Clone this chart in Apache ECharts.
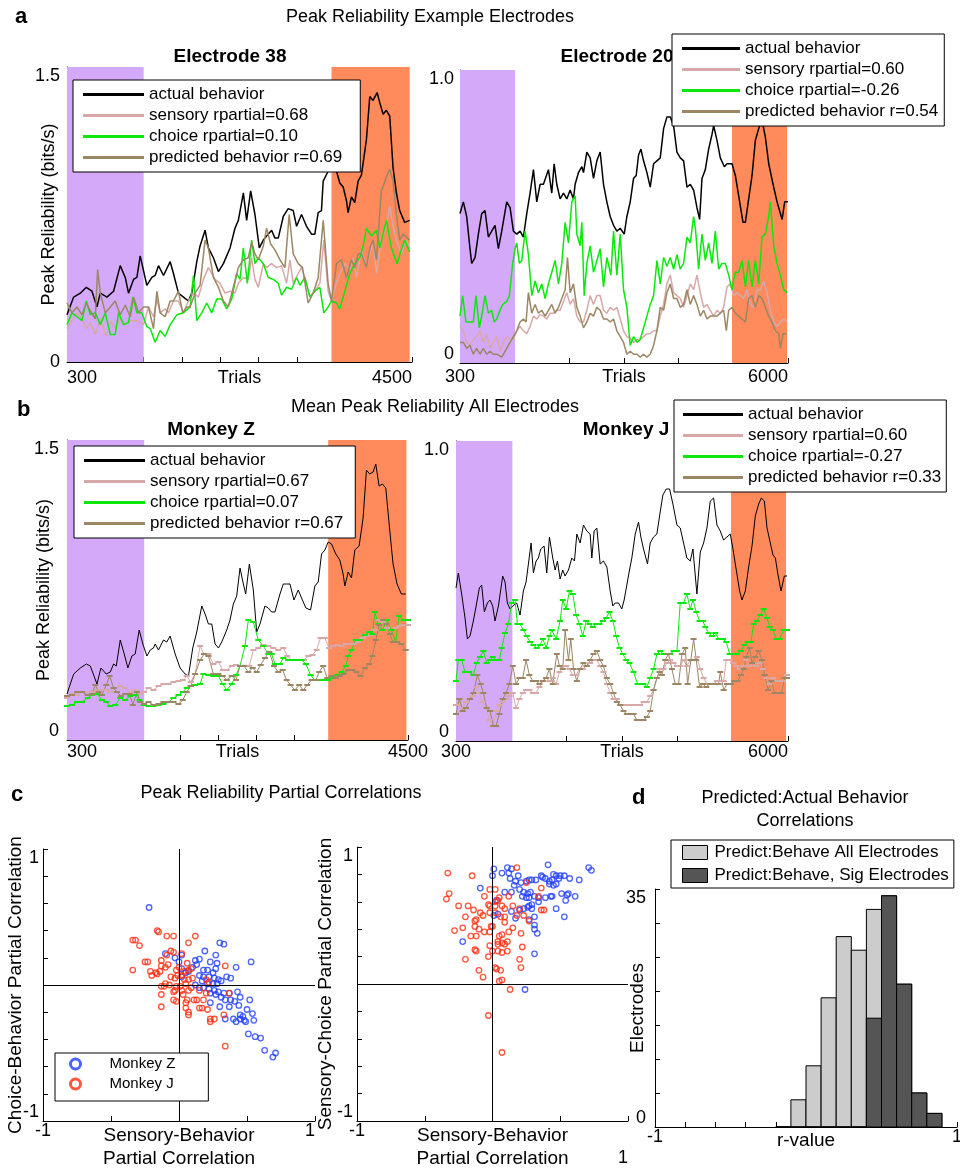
<!DOCTYPE html>
<html><head><meta charset="utf-8">
<script src="https://cdn.jsdelivr.net/npm/echarts@6/dist/echarts.min.js"></script>
<style>html,body{margin:0;padding:0;background:#fff}#c{width:960px;height:1169px}</style>
</head><body><div id="c"></div>
<script>
// ---------------- DATA ----------------
const ticksZ = [300, 766.7, 1233.3, 1700, 2166.7, 2633.3, 3100, 3566.7, 4033.3, 4500];
const ticksJ = [300, 1250, 2200, 3150, 4100, 5050, 6000];

const e38Bands = [[300, 1233], [3520, 4472]];
const e20Bands = [[300, 1257], [5027, 5984]];
const monkeyZBands = [[300, 1251], [3517, 4480]];
const monkeyJBands = [[300, 1268], [5021, 5966]];

const e38Actual = [[300,0.24],[381,0.33],[462,0.35],[535,0.38],[604,0.36],[665,0.28],[705,0.35],[786,0.33],[867,0.36],[948,0.49],[1009,0.43],[1049,0.35],[1110,0.42],[1151,0.43],[1191,0.54],[1272,0.39],[1333,0.43],[1373,0.44],[1414,0.49],[1475,0.44],[1556,0.51],[1596,0.45],[1657,0.35],[1718,0.33],[1778,0.31],[1819,0.35],[1880,0.51],[1920,0.59],[1981,0.67],[2021,0.58],[2082,0.53],[2143,0.46],[2204,0.50],[2285,0.58],[2345,0.68],[2386,0.72],[2447,0.86],[2487,0.72],[2536,0.87],[2588,0.75],[2641,0.58],[2690,0.62],[2730,0.64],[2791,0.67],[2831,0.63],[2872,0.63],[2933,0.74],[2993,0.78],[3054,0.77],[3095,0.69],[3155,0.75],[3216,0.69],[3277,0.65],[3317,0.65],[3358,0.76],[3398,0.77],[3419,0.92],[3479,0.97],[3540,0.99],[3581,0.97],[3621,0.91],[3662,0.89],[3702,0.82],[3722,0.76],[3763,0.84],[3803,0.81],[3844,0.92],[3884,0.95],[3945,1.13],[3986,1.35],[4026,1.33],[4075,1.37],[4107,1.32],[4148,1.26],[4188,1.28],[4229,1.25],[4269,0.99],[4310,0.86],[4350,0.77],[4411,0.71],[4472,0.72]];
const e38Sensory = [[300,0.17],[361,0.21],[422,0.25],[482,0.22],[535,0.17],[584,0.20],[644,0.14],[705,0.22],[778,0.13],[827,0.21],[887,0.17],[948,0.22],[1009,0.19],[1070,0.21],[1151,0.21],[1232,0.19],[1292,0.28],[1353,0.23],[1394,0.32],[1434,0.25],[1495,0.27],[1535,0.25],[1596,0.31],[1657,0.31],[1718,0.25],[1778,0.31],[1839,0.35],[1900,0.33],[1961,0.42],[2021,0.48],[2062,0.45],[2102,0.42],[2163,0.40],[2224,0.35],[2285,0.36],[2345,0.35],[2386,0.40],[2447,0.43],[2507,0.42],[2548,0.53],[2588,0.42],[2629,0.38],[2690,0.50],[2730,0.48],[2791,0.50],[2852,0.48],[2912,0.49],[2973,0.40],[3014,0.52],[3054,0.40],[3115,0.45],[3155,0.48],[3196,0.43],[3257,0.33],[3317,0.36],[3378,0.40],[3427,0.62],[3479,0.36],[3520,0.31],[3560,0.38],[3621,0.45],[3682,0.50],[3743,0.47],[3783,0.53],[3824,0.43],[3884,0.57],[3945,0.48],[3986,0.55],[4026,0.62],[4067,0.45],[4127,0.62],[4188,0.69],[4229,0.79],[4269,0.69],[4310,0.62],[4370,0.55],[4431,0.62],[4472,0.58]];
const e38Choice = [[300,0.19],[361,0.25],[422,0.23],[482,0.21],[535,0.31],[584,0.24],[644,0.25],[705,0.19],[766,0.25],[827,0.14],[887,0.14],[928,0.25],[989,0.19],[1049,0.20],[1102,0.33],[1151,0.25],[1211,0.25],[1272,0.18],[1313,0.17],[1373,0.10],[1434,0.16],[1495,0.13],[1556,0.19],[1637,0.24],[1718,0.25],[1799,0.28],[1839,0.44],[1880,0.21],[1940,0.25],[2001,0.30],[2062,0.25],[2123,0.32],[2183,0.32],[2244,0.27],[2305,0.32],[2366,0.45],[2406,0.42],[2447,0.58],[2495,0.40],[2548,0.62],[2588,0.50],[2629,0.53],[2690,0.50],[2750,0.43],[2811,0.42],[2872,0.40],[2912,0.34],[2973,0.38],[3034,0.37],[3095,0.43],[3135,0.39],[3196,0.43],[3257,0.33],[3317,0.36],[3378,0.38],[3427,0.25],[3479,0.28],[3520,0.31],[3581,0.30],[3621,0.27],[3682,0.36],[3743,0.45],[3803,0.50],[3864,0.53],[3905,0.59],[3945,0.68],[4006,0.64],[4067,0.67],[4107,0.58],[4188,0.72],[4249,0.58],[4318,0.50],[4370,0.57],[4411,0.62],[4472,0.56]];
const e38Predicted = [[300,0.30],[361,0.25],[422,0.28],[482,0.24],[535,0.30],[584,0.26],[644,0.22],[673,0.47],[705,0.35],[766,0.25],[827,0.28],[887,0.31],[948,0.24],[1009,0.29],[1070,0.23],[1110,0.33],[1171,0.25],[1232,0.28],[1292,0.28],[1353,0.17],[1394,0.36],[1434,0.25],[1495,0.23],[1556,0.31],[1596,0.31],[1657,0.36],[1709,0.25],[1758,0.28],[1799,0.28],[1859,0.35],[1920,0.39],[1981,0.62],[2021,0.58],[2082,0.43],[2143,0.38],[2204,0.31],[2264,0.28],[2325,0.38],[2386,0.48],[2447,0.52],[2507,0.53],[2548,0.61],[2588,0.55],[2629,0.52],[2690,0.59],[2730,0.68],[2779,0.60],[2831,0.57],[2892,0.52],[2953,0.48],[3005,0.75],[3054,0.55],[3115,0.50],[3167,0.48],[3236,0.30],[3297,0.35],[3358,0.43],[3419,0.72],[3479,0.40],[3520,0.31],[3581,0.50],[3641,0.52],[3702,0.43],[3763,0.52],[3803,0.48],[3844,0.55],[3884,0.55],[3945,0.48],[3986,0.58],[4026,0.62],[4067,0.52],[4127,0.87],[4188,0.94],[4229,0.98],[4269,0.92],[4310,0.75],[4350,0.62],[4391,0.65],[4472,0.62]];

const e20Actual = [[300,0.51],[358,0.55],[416,0.50],[474,0.39],[503,0.34],[561,0.36],[619,0.44],[677,0.51],[735,0.52],[793,0.43],[851,0.45],[909,0.47],[967,0.39],[1025,0.45],[1112,0.55],[1170,0.53],[1228,0.45],[1286,0.44],[1344,0.45],[1402,0.43],[1460,0.51],[1518,0.58],[1576,0.66],[1634,0.55],[1692,0.61],[1750,0.61],[1837,0.66],[1895,0.58],[1936,0.68],[1982,0.61],[2040,0.56],[2098,0.58],[2156,0.56],[2214,0.59],[2272,0.56],[2301,0.61],[2359,0.65],[2417,0.67],[2446,0.65],[2504,0.72],[2562,0.70],[2620,0.63],[2678,0.69],[2736,0.72],[2794,0.61],[2852,0.55],[2910,0.50],[2968,0.47],[3026,0.45],[3084,0.46],[3154,0.44],[3200,0.50],[3258,0.55],[3316,0.63],[3362,0.64],[3403,0.71],[3444,0.73],[3490,0.69],[3548,0.65],[3606,0.60],[3664,0.68],[3722,0.69],[3780,0.70],[3838,0.80],[3896,0.84],[3954,0.84],[4012,0.81],[4070,0.72],[4128,0.70],[4186,0.69],[4244,0.60],[4302,0.61],[4360,0.59],[4418,0.53],[4464,0.49],[4505,0.63],[4563,0.66],[4621,0.73],[4679,0.78],[4708,0.81],[4766,0.76],[4824,0.70],[4894,0.67],[4940,0.68],[5027,0.68],[5085,0.64],[5143,0.57],[5218,0.48],[5259,0.48],[5317,0.56],[5375,0.64],[5433,0.76],[5491,0.80],[5549,0.83],[5607,0.77],[5665,0.68],[5740,0.61],[5810,0.55],[5897,0.49],[5943,0.55],[6000,0.55]];
const e20Trials = [300,358,416,474,532,590,648,706,764,822,880,938,996,1054,1112,1170,1228,1286,1344,1402,1460,1518,1576,1634,1692,1750,1808,1866,1924,1982,2040,2098,2156,2214,2272,2330,2388,2446,2504,2562,2620,2678,2736,2794,2852,2910,2968,3026,3084,3142,3200,3258,3316,3374,3432,3490,3548,3606,3664,3722,3780,3838,3896,3954,4012,4070,4128,4186,4244,4302,4360,4418,4476,4534,4592,4650,4708,4766,4824,4882,4940,4998,5056,5114,5172,5230,5288,5346,5404,5462,5520,5578,5636,5694,5752,5810,5868,5926,5984];
const e20SensoryVals = [0.125,0.11,0.07,0.06,0.08,0.09,0.11,0.07,0.10,0.05,0.07,0.09,0.04,0.07,0.09,0.08,0.08,0.11,0.125,0.11,0.10,0.125,0.16,0.15,0.165,0.16,0.15,0.17,0.17,0.18,0.18,0.21,0.24,0.20,0.22,0.16,0.14,0.14,0.18,0.23,0.20,0.23,0.23,0.18,0.17,0.19,0.18,0.19,0.15,0.11,0.09,0.085,0.07,0.08,0.08,0.09,0.10,0.10,0.11,0.11,0.16,0.20,0.27,0.30,0.24,0.23,0.22,0.19,0.23,0.27,0.25,0.30,0.24,0.19,0.20,0.18,0.16,0.18,0.17,0.19,0.26,0.27,0.23,0.24,0.23,0.22,0.25,0.20,0.19,0.25,0.25,0.28,0.24,0.18,0.14,0.125,0.14,0.15,0.14];
const e20Choice = [[300,0.16],[346,0.23],[404,0.14],[474,0.14],[532,0.14],[578,0.23],[636,0.12],[677,0.16],[735,0.23],[793,0.17],[851,0.18],[892,0.14],[938,0.15],[996,0.18],[1042,0.20],[1112,0.21],[1158,0.23],[1216,0.34],[1257,0.39],[1286,0.41],[1332,0.34],[1373,0.35],[1431,0.45],[1489,0.37],[1547,0.23],[1605,0.28],[1663,0.24],[1721,0.27],[1779,0.22],[1837,0.27],[1895,0.31],[1953,0.35],[2011,0.27],[2069,0.34],[2127,0.48],[2185,0.41],[2243,0.55],[2301,0.57],[2330,0.44],[2388,0.40],[2417,0.48],[2458,0.23],[2504,0.34],[2562,0.40],[2620,0.31],[2678,0.35],[2736,0.39],[2794,0.26],[2852,0.36],[2922,0.30],[2968,0.45],[3026,0.30],[3084,0.44],[3142,0.25],[3200,0.19],[3258,0.06],[3316,0.09],[3374,0.07],[3432,0.08],[3490,0.12],[3548,0.16],[3606,0.20],[3664,0.23],[3722,0.35],[3780,0.27],[3838,0.36],[3896,0.33],[3954,0.36],[4012,0.32],[4070,0.37],[4128,0.32],[4186,0.34],[4244,0.43],[4302,0.41],[4360,0.50],[4395,0.45],[4447,0.32],[4505,0.44],[4563,0.35],[4621,0.41],[4679,0.34],[4737,0.45],[4795,0.32],[4853,0.34],[4911,0.34],[4969,0.30],[5027,0.25],[5085,0.31],[5143,0.31],[5201,0.35],[5259,0.26],[5317,0.35],[5375,0.26],[5433,0.35],[5491,0.27],[5549,0.43],[5607,0.44],[5665,0.50],[5694,0.55],[5752,0.40],[5810,0.34],[5868,0.30],[5926,0.25],[5984,0.24]];
const e20Predicted = [[300,0.07],[358,0.07],[416,0.05],[474,0.06],[532,0.03],[590,0.05],[648,0.03],[706,0.05],[764,0.03],[822,0.04],[880,0.03],[938,0.03],[1025,0.02],[1083,0.04],[1141,0.06],[1228,0.09],[1286,0.11],[1344,0.14],[1402,0.15],[1448,0.14],[1489,0.24],[1547,0.17],[1605,0.20],[1663,0.17],[1721,0.18],[1779,0.16],[1837,0.18],[1895,0.20],[1953,0.17],[2011,0.19],[2069,0.22],[2127,0.25],[2168,0.36],[2214,0.24],[2272,0.27],[2330,0.19],[2388,0.16],[2446,0.12],[2504,0.14],[2562,0.17],[2620,0.16],[2678,0.19],[2736,0.18],[2794,0.15],[2852,0.15],[2910,0.14],[2968,0.15],[3026,0.11],[3084,0.09],[3142,0.07],[3200,0.03],[3258,0.04],[3316,0.03],[3374,0.03],[3432,0.02],[3490,0.03],[3548,0.02],[3606,0.03],[3664,0.06],[3722,0.11],[3780,0.19],[3838,0.18],[3896,0.24],[3954,0.27],[4012,0.22],[4070,0.22],[4128,0.19],[4186,0.20],[4244,0.25],[4302,0.20],[4360,0.23],[4418,0.20],[4476,0.16],[4534,0.18],[4592,0.15],[4650,0.16],[4708,0.16],[4766,0.16],[4824,0.17],[4882,0.18],[4928,0.11],[4969,0.18],[5027,0.19],[5085,0.17],[5143,0.16],[5201,0.15],[5259,0.14],[5317,0.22],[5375,0.23],[5433,0.19],[5491,0.23],[5549,0.22],[5607,0.19],[5665,0.16],[5723,0.14],[5781,0.11],[5839,0.10],[5868,0.05],[5914,0.10],[5984,0.10]];

const zActual = [[300,0.23],[382,0.33],[464,0.36],[538,0.38],[587,0.37],[669,0.28],[718,0.36],[784,0.33],[833,0.34],[874,0.38],[907,0.37],[956,0.50],[1005,0.43],[1050,0.36],[1099,0.42],[1140,0.43],[1189,0.55],[1234,0.48],[1284,0.42],[1325,0.45],[1365,0.46],[1386,0.48],[1427,0.45],[1488,0.50],[1529,0.49],[1570,0.52],[1632,0.43],[1693,0.36],[1755,0.33],[1796,0.32],[1849,0.46],[1898,0.54],[1960,0.67],[2001,0.63],[2042,0.58],[2083,0.58],[2124,0.48],[2165,0.46],[2206,0.49],[2267,0.55],[2308,0.60],[2349,0.68],[2390,0.72],[2431,0.86],[2472,0.78],[2501,0.73],[2546,0.88],[2595,0.75],[2636,0.54],[2677,0.58],[2738,0.67],[2779,0.66],[2820,0.64],[2861,0.64],[2923,0.73],[2964,0.78],[3005,0.78],[3046,0.78],[3095,0.70],[3148,0.75],[3189,0.71],[3242,0.66],[3300,0.65],[3353,0.77],[3394,0.79],[3435,0.93],[3476,0.95],[3517,0.99],[3558,0.98],[3611,0.93],[3660,0.90],[3701,0.83],[3722,0.77],[3763,0.84],[3804,0.81],[3845,0.95],[3898,0.97],[3947,1.11],[3988,1.35],[4029,1.33],[4070,1.34],[4103,1.38],[4144,1.27],[4185,1.28],[4226,1.26],[4275,1.05],[4316,0.88],[4365,0.78],[4418,0.73],[4472,0.73]];
const zSensory = [[300,0.21],[361,0.23],[423,0.225],[484,0.24],[554,0.24],[607,0.24],[669,0.25],[730,0.25],[784,0.25],[833,0.24],[894,0.26],[956,0.27],[1017,0.26],[1079,0.24],[1140,0.25],[1202,0.23],[1251,0.24],[1304,0.26],[1365,0.25],[1427,0.27],[1488,0.28],[1550,0.28],[1611,0.29],[1673,0.295],[1726,0.30],[1775,0.32],[1824,0.29],[1878,0.33],[1939,0.47],[1988,0.43],[2042,0.43],[2103,0.38],[2165,0.39],[2218,0.35],[2267,0.35],[2329,0.37],[2382,0.375],[2431,0.37],[2492,0.37],[2546,0.37],[2595,0.45],[2656,0.46],[2718,0.475],[2779,0.47],[2841,0.46],[2902,0.45],[2964,0.46],[3013,0.42],[3066,0.40],[3119,0.40],[3169,0.40],[3218,0.40],[3271,0.42],[3324,0.425],[3374,0.45],[3423,0.51],[3476,0.51],[3529,0.46],[3578,0.47],[3628,0.475],[3681,0.47],[3734,0.48],[3783,0.48],[3832,0.48],[3886,0.49],[3939,0.51],[3988,0.52],[4037,0.525],[4091,0.55],[4144,0.60],[4193,0.59],[4242,0.56],[4295,0.55],[4349,0.56],[4398,0.57],[4447,0.575],[4500,0.575]];
const zChoice = [[300,0.17],[361,0.175],[423,0.19],[484,0.19],[554,0.21],[607,0.225],[669,0.23],[730,0.20],[784,0.19],[833,0.17],[894,0.175],[956,0.21],[1017,0.20],[1079,0.22],[1140,0.225],[1193,0.20],[1243,0.175],[1304,0.17],[1365,0.17],[1427,0.175],[1488,0.18],[1550,0.19],[1611,0.21],[1673,0.225],[1726,0.24],[1775,0.26],[1824,0.27],[1878,0.275],[1939,0.28],[1980,0.33],[2042,0.325],[2103,0.32],[2165,0.32],[2218,0.28],[2267,0.25],[2329,0.28],[2382,0.325],[2431,0.37],[2492,0.47],[2533,0.60],[2595,0.59],[2656,0.50],[2718,0.47],[2779,0.43],[2820,0.43],[2861,0.38],[2923,0.38],[2964,0.41],[3025,0.40],[3087,0.40],[3136,0.40],[3189,0.40],[3242,0.38],[3300,0.325],[3353,0.30],[3406,0.30],[3455,0.30],[3517,0.30],[3578,0.31],[3628,0.325],[3681,0.34],[3734,0.37],[3763,0.42],[3804,0.45],[3857,0.50],[3906,0.50],[3968,0.525],[4021,0.54],[4062,0.53],[4091,0.64],[4132,0.58],[4185,0.55],[4242,0.60],[4295,0.55],[4349,0.49],[4390,0.62],[4447,0.60],[4500,0.60]];
const zPredicted = [[300,0.22],[361,0.225],[423,0.24],[484,0.24],[554,0.225],[607,0.23],[648,0.275],[689,0.24],[730,0.225],[784,0.275],[825,0.32],[874,0.26],[915,0.24],[964,0.22],[1017,0.23],[1070,0.23],[1111,0.175],[1161,0.24],[1202,0.19],[1251,0.18],[1304,0.19],[1365,0.175],[1427,0.18],[1488,0.19],[1550,0.19],[1611,0.19],[1673,0.18],[1726,0.20],[1775,0.24],[1824,0.27],[1878,0.33],[1939,0.40],[1988,0.43],[2042,0.42],[2103,0.33],[2165,0.33],[2218,0.32],[2267,0.30],[2329,0.32],[2382,0.30],[2431,0.37],[2480,0.37],[2533,0.34],[2587,0.36],[2636,0.34],[2685,0.375],[2738,0.41],[2792,0.44],[2849,0.37],[2902,0.34],[2956,0.35],[3005,0.30],[3054,0.275],[3107,0.25],[3160,0.275],[3210,0.25],[3259,0.275],[3312,0.30],[3366,0.30],[3406,0.34],[3455,0.37],[3505,0.31],[3558,0.32],[3611,0.31],[3660,0.32],[3709,0.33],[3763,0.35],[3816,0.35],[3865,0.34],[3914,0.32],[3968,0.36],[4021,0.38],[4062,0.42],[4103,0.50],[4144,0.575],[4193,0.60],[4234,0.58],[4275,0.53],[4316,0.49],[4365,0.49],[4418,0.48],[4472,0.45]];

const jActual = [[300,0.51],[340,0.56],[397,0.49],[455,0.41],[495,0.34],[541,0.35],[598,0.40],[655,0.46],[701,0.51],[741,0.52],[787,0.43],[839,0.46],[884,0.47],[930,0.45],[970,0.40],[1028,0.45],[1102,0.55],[1142,0.53],[1182,0.46],[1228,0.44],[1274,0.45],[1343,0.46],[1400,0.42],[1457,0.50],[1503,0.53],[1543,0.59],[1589,0.66],[1629,0.56],[1675,0.60],[1715,0.61],[1755,0.64],[1812,0.65],[1858,0.56],[1904,0.68],[1961,0.61],[2002,0.57],[2042,0.60],[2087,0.54],[2133,0.57],[2173,0.55],[2231,0.57],[2288,0.61],[2334,0.60],[2374,0.69],[2431,0.66],[2488,0.72],[2546,0.70],[2603,0.69],[2632,0.61],[2672,0.70],[2718,0.71],[2775,0.59],[2832,0.60],[2890,0.58],[2947,0.50],[2993,0.45],[3033,0.46],[3090,0.46],[3147,0.44],[3187,0.47],[3233,0.52],[3279,0.57],[3319,0.61],[3377,0.69],[3434,0.73],[3474,0.68],[3520,0.64],[3588,0.59],[3634,0.66],[3692,0.68],[3749,0.69],[3795,0.75],[3852,0.82],[3909,0.84],[3967,0.84],[4024,0.79],[4093,0.72],[4150,0.71],[4207,0.66],[4264,0.61],[4322,0.60],[4368,0.64],[4436,0.49],[4494,0.63],[4551,0.66],[4608,0.71],[4666,0.80],[4723,0.81],[4780,0.72],[4837,0.70],[4895,0.67],[4952,0.68],[5009,0.69],[5055,0.64],[5112,0.57],[5170,0.50],[5210,0.47],[5267,0.50],[5324,0.58],[5382,0.65],[5439,0.75],[5496,0.79],[5542,0.81],[5594,0.80],[5640,0.71],[5685,0.67],[5742,0.62],[5783,0.61],[5823,0.56],[5880,0.50],[5937,0.55],[5983,0.55]];
const jSensory = [[300,0.12],[357,0.14],[415,0.11],[472,0.13],[529,0.14],[586,0.15],[644,0.18],[701,0.16],[758,0.13],[816,0.11],[873,0.07],[930,0.05],[987,0.10],[1045,0.12],[1102,0.13],[1159,0.14],[1217,0.15],[1274,0.16],[1331,0.11],[1389,0.14],[1446,0.16],[1503,0.17],[1560,0.17],[1618,0.16],[1675,0.16],[1732,0.18],[1790,0.20],[1847,0.21],[1904,0.20],[1961,0.21],[2019,0.19],[2076,0.23],[2133,0.25],[2191,0.25],[2248,0.24],[2305,0.22],[2363,0.22],[2420,0.24],[2477,0.24],[2534,0.25],[2603,0.26],[2660,0.27],[2718,0.27],[2775,0.25],[2832,0.23],[2890,0.19],[2947,0.16],[3004,0.14],[3061,0.14],[3119,0.12],[3176,0.12],[3233,0.12],[3291,0.12],[3348,0.12],[3405,0.12],[3462,0.12],[3520,0.13],[3577,0.13],[3634,0.15],[3692,0.17],[3749,0.21],[3806,0.24],[3863,0.24],[3921,0.26],[3978,0.27],[4035,0.26],[4093,0.25],[4150,0.25],[4207,0.27],[4264,0.25],[4322,0.27],[4379,0.27],[4436,0.28],[4494,0.24],[4551,0.21],[4608,0.19],[4666,0.19],[4723,0.19],[4780,0.20],[4837,0.20],[4895,0.20],[4940,0.27],[4998,0.27],[5055,0.26],[5112,0.25],[5170,0.24],[5227,0.25],[5284,0.27],[5342,0.25],[5399,0.26],[5456,0.25],[5513,0.26],[5571,0.24],[5628,0.21],[5685,0.19],[5742,0.21],[5800,0.20],[5857,0.20],[5914,0.20],[5983,0.22]];
const jChoice = [[300,0.20],[340,0.27],[397,0.27],[455,0.23],[529,0.23],[598,0.22],[655,0.26],[712,0.28],[770,0.30],[827,0.26],[884,0.27],[930,0.28],[987,0.27],[1045,0.27],[1085,0.31],[1142,0.36],[1199,0.39],[1257,0.46],[1314,0.47],[1354,0.39],[1400,0.39],[1457,0.37],[1515,0.35],[1572,0.33],[1629,0.32],[1686,0.31],[1744,0.32],[1790,0.34],[1847,0.31],[1904,0.35],[1944,0.37],[2019,0.34],[2087,0.40],[2133,0.47],[2191,0.44],[2248,0.50],[2305,0.49],[2362,0.42],[2420,0.39],[2477,0.35],[2534,0.40],[2592,0.39],[2649,0.38],[2706,0.39],[2763,0.39],[2821,0.40],[2878,0.41],[2935,0.43],[2993,0.40],[3050,0.35],[3107,0.31],[3165,0.29],[3222,0.27],[3279,0.26],[3348,0.23],[3417,0.19],[3474,0.19],[3520,0.19],[3577,0.18],[3634,0.21],[3692,0.24],[3749,0.29],[3806,0.30],[3863,0.29],[3921,0.29],[3978,0.29],[4035,0.30],[4093,0.30],[4150,0.46],[4207,0.46],[4264,0.49],[4322,0.44],[4368,0.47],[4425,0.43],[4482,0.40],[4539,0.40],[4580,0.38],[4637,0.36],[4694,0.35],[4751,0.36],[4809,0.34],[4883,0.34],[4940,0.33],[4998,0.29],[5067,0.29],[5124,0.29],[5193,0.30],[5250,0.32],[5307,0.33],[5364,0.33],[5410,0.39],[5467,0.40],[5525,0.42],[5582,0.44],[5640,0.41],[5685,0.38],[5742,0.37],[5800,0.34],[5857,0.34],[5926,0.37],[5983,0.37]];
const jPredicted = [[300,0.09],[357,0.14],[415,0.10],[472,0.11],[541,0.14],[598,0.16],[667,0.22],[724,0.19],[770,0.16],[827,0.11],[884,0.10],[942,0.05],[987,0.05],[1045,0.09],[1102,0.14],[1159,0.16],[1217,0.19],[1274,0.25],[1331,0.19],[1389,0.21],[1446,0.21],[1503,0.27],[1560,0.22],[1618,0.20],[1675,0.20],[1732,0.19],[1790,0.20],[1847,0.21],[1904,0.24],[1961,0.19],[2030,0.29],[2076,0.25],[2133,0.24],[2173,0.37],[2231,0.27],[2271,0.34],[2317,0.24],[2374,0.20],[2431,0.24],[2488,0.26],[2546,0.25],[2603,0.27],[2660,0.29],[2718,0.30],[2775,0.27],[2832,0.25],[2890,0.21],[2947,0.19],[3004,0.16],[3061,0.13],[3119,0.12],[3176,0.10],[3233,0.09],[3291,0.09],[3348,0.09],[3405,0.07],[3462,0.07],[3520,0.07],[3577,0.08],[3634,0.10],[3692,0.17],[3749,0.21],[3795,0.23],[3835,0.22],[3892,0.27],[3949,0.29],[4007,0.24],[4064,0.19],[4121,0.19],[4179,0.29],[4236,0.31],[4276,0.19],[4333,0.27],[4379,0.34],[4425,0.27],[4482,0.18],[4539,0.19],[4597,0.18],[4654,0.19],[4711,0.19],[4769,0.19],[4809,0.19],[4837,0.23],[4895,0.17],[4952,0.19],[5021,0.19],[5078,0.20],[5135,0.20],[5193,0.22],[5238,0.24],[5284,0.28],[5342,0.31],[5382,0.26],[5439,0.28],[5496,0.30],[5554,0.27],[5600,0.22],[5657,0.17],[5714,0.20],[5771,0.16],[5829,0.16],[5886,0.16],[5943,0.21],[5983,0.21]];

// Panel c: [sensory-behavior, choice-behavior] and [sensory-behavior, sensory-choice]
const zSBvsCB = [[-0.22,0.57],[0.30,0.31],[0.33,0.30],[0.19,0.25],[0.27,0.22],[0.53,0.17],[0.42,0.13],[0.02,0.22],[0.12,0.18],[0.15,0.19],[0.23,0.17],[0.28,0.16],[0.13,0.15],[0.10,0.13],[0.18,0.11],[0.21,0.11],[0.25,0.09],[0.27,0.12],[0.07,0.10],[0.05,0.09],[0.02,0.12],[0.15,0.07],[0.18,0.06],[0.22,0.06],[0.26,0.05],[0.29,0.04],[0.31,0.03],[0.35,0.06],[0.38,0.05],[0.17,0.03],[0.21,0.01],[0.25,0.01],[0.28,0.01],[0.12,0.00],[0.15,-0.02],[0.18,-0.02],[0.22,-0.03],[0.26,-0.04],[0.29,-0.05],[0.33,-0.06],[0.37,-0.06],[0.43,-0.05],[0.23,-0.06],[0.27,-0.07],[0.31,-0.09],[0.34,-0.11],[0.38,-0.11],[0.41,-0.12],[0.45,-0.09],[0.52,-0.11],[0.23,-0.13],[0.30,-0.16],[0.37,-0.16],[0.44,-0.15],[0.50,-0.18],[0.45,-0.22],[0.47,-0.23],[0.54,-0.21],[0.40,-0.25],[0.42,-0.27],[0.45,-0.25],[0.49,-0.27],[0.55,-0.26],[0.48,-0.26],[0.34,-0.25],[0.51,-0.36],[0.56,-0.38],[0.60,-0.39],[0.63,-0.48],[0.69,-0.53],[0.71,-0.50],[0.00,0.17],[-0.03,0.20],[-0.10,0.23],[0.02,0.06]];
const jSBvsCB = [[-0.34,0.33],[-0.32,0.33],[-0.29,0.29],[-0.16,0.40],[-0.15,0.39],[-0.09,0.36],[-0.04,0.36],[0.12,0.36],[0.07,0.31],[-0.06,0.25],[-0.04,0.24],[-0.09,0.22],[0.02,0.23],[-0.13,0.18],[-0.25,0.17],[-0.23,0.17],[-0.08,0.15],[0.06,0.16],[-0.34,0.11],[-0.21,0.10],[-0.17,0.09],[-0.13,0.14],[-0.10,0.13],[-0.14,0.10],[-0.20,0.07],[-0.16,0.08],[-0.06,0.06],[-0.01,0.07],[-0.03,0.05],[0.02,0.07],[0.07,0.11],[0.09,0.12],[0.04,0.04],[0.07,0.04],[0.10,0.05],[0.20,0.04],[0.22,0.02],[-0.13,-0.01],[-0.11,-0.01],[-0.07,0.00],[-0.02,-0.01],[0.01,-0.01],[-0.03,-0.04],[-0.04,-0.05],[0.02,-0.04],[0.07,-0.04],[0.09,-0.02],[0.15,-0.04],[0.20,-0.06],[-0.13,-0.07],[-0.04,-0.11],[-0.02,-0.12],[0.03,-0.07],[0.06,-0.11],[0.11,-0.11],[0.13,-0.11],[0.18,-0.11],[-0.13,-0.16],[0.05,-0.17],[0.05,-0.13],[0.15,-0.17],[0.17,-0.17],[0.21,-0.18],[0.07,-0.20],[0.07,-0.22],[0.23,-0.25],[0.26,-0.25],[0.23,-0.27],[0.34,0.14],[0.37,-0.06],[0.33,-0.22],[0.34,-0.45],[-0.10,0.01],[0.05,0.01],[0.00,0.13],[-0.02,0.11],[0.04,0.10]];
const zSBvsSC = [[0.01,0.84],[0.00,0.79],[0.11,0.85],[0.14,0.84],[0.07,0.81],[0.12,0.81],[0.19,0.79],[0.13,0.77],[0.17,0.75],[0.16,0.72],[0.21,0.74],[0.25,0.75],[0.27,0.76],[0.29,0.76],[0.32,0.76],[0.36,0.79],[0.37,0.78],[0.39,0.77],[0.41,0.87],[0.42,0.75],[0.44,0.76],[0.45,0.80],[0.47,0.79],[0.49,0.77],[0.50,0.79],[0.53,0.79],[0.57,0.77],[0.64,0.76],[0.71,0.85],[0.73,0.83],[0.45,0.72],[0.47,0.73],[0.42,0.73],[-0.09,0.70],[0.09,0.67],[0.14,0.67],[0.20,0.69],[0.23,0.67],[0.26,0.66],[0.28,0.67],[0.22,0.64],[0.25,0.63],[0.27,0.63],[0.31,0.64],[0.34,0.63],[0.39,0.63],[0.43,0.64],[0.44,0.64],[0.51,0.66],[0.55,0.65],[0.56,0.66],[0.61,0.64],[0.54,0.61],[0.29,0.58],[0.27,0.57],[0.26,0.56],[0.23,0.55],[0.20,0.54],[0.17,0.48],[0.14,0.53],[0.29,0.55],[0.31,0.49],[0.27,0.47],[0.31,0.43],[0.31,0.40],[0.33,0.37],[0.47,0.55],[0.53,0.49],[0.04,0.51],[0.01,0.50],[-0.22,0.31],[0.31,0.22],[0.24,-0.04],[0.03,0.61],[0.34,0.60]];
const jSBvsSC = [[-0.33,0.81],[-0.15,0.79],[0.18,0.85],[-0.32,0.66],[-0.34,0.62],[-0.02,0.69],[0.02,0.69],[-0.06,0.64],[0.05,0.63],[0.12,0.64],[0.04,0.61],[0.02,0.60],[0.34,0.64],[0.36,0.70],[0.25,0.74],[-0.25,0.57],[-0.18,0.57],[-0.14,0.54],[-0.03,0.58],[-0.02,0.57],[0.02,0.57],[0.07,0.57],[0.09,0.55],[0.15,0.57],[0.20,0.55],[0.36,0.54],[0.38,0.54],[-0.09,0.52],[-0.02,0.52],[0.02,0.52],[-0.20,0.49],[-0.12,0.47],[-0.13,0.46],[-0.07,0.50],[0.06,0.49],[0.09,0.49],[0.18,0.50],[0.23,0.50],[0.27,0.46],[0.00,0.42],[-0.01,0.42],[0.09,0.45],[0.15,0.41],[0.12,0.38],[0.21,0.37],[-0.22,0.41],[-0.13,0.42],[-0.10,0.40],[-0.06,0.38],[-0.02,0.38],[-0.28,0.39],[-0.16,0.35],[-0.12,0.35],[0.05,0.35],[0.07,0.36],[0.04,0.31],[0.07,0.30],[0.11,0.31],[0.04,0.29],[0.09,0.29],[-0.02,0.28],[0.22,0.27],[-0.13,0.25],[-0.12,0.24],[0.00,0.24],[0.04,0.24],[0.07,0.23],[0.11,0.24],[-0.03,0.20],[-0.20,0.18],[0.20,0.18],[0.02,0.12],[0.03,0.11],[0.06,0.10],[0.21,0.12],[-0.10,0.10],[-0.07,0.05],[0.05,0.02],[0.07,0.03],[0.13,-0.04],[-0.03,-0.23],[0.07,-0.50]];

// Panel d histogram
const rEdges = [-0.2,-0.1,0,0.1,0.2,0.3,0.4,0.5,0.6,0.7,0.8,0.9];
const allCounts = [0,4,9,19,28,26,32,34,21,5,2];
const sigCounts = [0,0,0,0,0,0,16,34,21,5,2];

// ---------------- STYLE ----------------
const F = "'Liberation Sans', Arial, Helvetica, sans-serif";
const BLACK = '#000000', PINK = '#d8a8a8', GREEN = '#0ce80c', BROWN = '#9c8664';
const PURPLE = '#d5a9fa', ORANGE = '#ff8a5c', BLUE = '#1f3dff', RED = '#ff2c0c';
const LIGHT = '#cccccc', DARK = '#555555';

function plain(v) { return String(v); }
function axLine() { return {show: true, onZero: false, lineStyle: {color: '#000', width: 1}}; }
function tick(extra) { return Object.assign({show: true, inside: true, length: 5, lineStyle: {color: '#000', width: 1}}, extra || {}); }

function xTime(gi, max, ticks, gap, minAlign, maxAlign) {
  return {gridIndex: gi, type: 'value', min: 300, max: max,
    axisLine: axLine(), axisTick: tick({customValues: ticks}), splitLine: {show: false},
    axisLabel: {customValues: [300, max], formatter: plain, color: '#000', fontSize: 18, fontFamily: F, margin: gap,
      alignMinLabel: minAlign, alignMaxLabel: maxAlign},
    name: 'Trials', nameLocation: 'middle', nameGap: gap, nameMoveOverlap: false,
    nameTextStyle: {color: '#000', fontSize: 18, fontFamily: F}};
}
function yRel(gi, max, fmt, nameGap, margin, minVA) {
  return {gridIndex: gi, type: 'value', min: 0, max: max, interval: 0.5,
    axisLine: axLine(), axisTick: tick(), splitLine: {show: false},
    axisLabel: {customValues: [0, max], formatter: fmt, color: '#000', fontSize: 18, fontFamily: F, margin: margin,
      verticalAlignMaxLabel: 'top', verticalAlignMinLabel: minVA},
    name: nameGap ? 'Peak Reliability (bits/s)' : '', nameLocation: 'middle', nameGap: nameGap || 0, nameMoveOverlap: false,
    nameTextStyle: {color: '#000', fontSize: 18, fontFamily: F}};
}
function xCorr(gi, labels, maxAlign) {
  return {gridIndex: gi, type: 'value', min: -1, max: 1, interval: 0.5,
    axisLine: axLine(), axisTick: tick(), splitLine: {show: false},
    axisLabel: {customValues: labels, formatter: plain, color: '#000', fontSize: 18, fontFamily: F, margin: 1, alignMaxLabel: maxAlign},
    name: 'Sensory-Behavior\nPartial Correlation', nameLocation: 'middle', nameGap: 3, nameMoveOverlap: false,
    nameTextStyle: {color: '#000', fontSize: 19, fontFamily: F, lineHeight: 23}};
}
function yCorr(gi, name, gap) {
  return {gridIndex: gi, type: 'value', min: -1, max: 1, interval: 0.2,
    axisLine: axLine(), axisTick: tick(), splitLine: {show: false},
    axisLabel: {customValues: [-1, 1], formatter: plain, color: '#000', fontSize: 18, fontFamily: F, margin: 4,
      verticalAlignMaxLabel: 'top', verticalAlignMinLabel: 'bottom'},
    name: name, nameLocation: 'middle', nameGap: gap, nameMoveOverlap: false,
    nameTextStyle: {color: '#000', fontSize: 19, fontFamily: F}};
}

function lineS(name, data, color, gi, width, caps) {
  const s = {type: 'line', name: name, data: data, xAxisIndex: gi, yAxisIndex: gi, z: 3,
    lineStyle: {color: color, width: width}, itemStyle: {color: color},
    symbol: 'none', showSymbol: false, emphasis: {disabled: true}, silent: true};
  if (caps) { s.symbol = 'rect'; s.symbolSize = [6, 2]; s.showSymbol = true; s.showAllSymbol = true; }
  return s;
}
function bandS(gi, bands) {
  return {type: 'custom', xAxisIndex: gi, yAxisIndex: gi, z: 1, silent: true, data: bands,
    encode: {x: [0, 1]},
    renderItem: function (params, api) {
      const a = api.coord([api.value(0), 0]), b = api.coord([api.value(1), 0]);
      const cs = params.coordSys;
      return {type: 'rect', shape: {x: a[0], y: cs.y, width: b[0] - a[0], height: cs.height},
        style: {fill: params.dataIndex === 0 ? PURPLE : ORANGE}};
    }};
}
function scatterS(name, data, color, gi, cross) {
  const s = {type: 'scatter', name: name, data: data, xAxisIndex: gi, yAxisIndex: gi, z: 3, silent: true,
    symbol: 'circle', symbolSize: 5.5,
    itemStyle: {color: 'rgba(0,0,0,0)', borderColor: color, borderWidth: 1.3}};
  if (cross) s.markLine = {silent: true, symbol: 'none', label: {show: false}, animation: false,
    lineStyle: {color: '#000', width: 1, type: 'solid'}, emphasis: {disabled: true},
    data: [{xAxis: 0}, {yAxis: 0}]};
  return s;
}
function histS(name, counts, fill, gi) {
  const data = counts.map(function (c, i) { return [rEdges[i], rEdges[i + 1], c]; });
  return {type: 'custom', name: name, xAxisIndex: gi, yAxisIndex: gi, z: fill === DARK ? 3 : 2, silent: true,
    data: data, encode: {x: [0, 1], y: 2}, itemStyle: {color: fill},
    renderItem: function (params, api) {
      const p0 = api.coord([api.value(0), api.value(2)]), p1 = api.coord([api.value(1), 0]);
      return {type: 'rect', shape: {x: p0[0], y: p0[1], width: p1[0] - p0[0], height: p1[1] - p0[1]},
        style: {fill: fill, stroke: '#000', lineWidth: 1}};
    }};
}
function lineLegend(items, left, top, pad, iw) {
  return {orient: 'vertical', left: left, top: top, padding: pad, itemWidth: iw, itemHeight: 3, itemGap: 2,
    selectedMode: false, backgroundColor: '#fff', borderColor: '#000', borderWidth: 1, z: 10,
    textStyle: {color: '#000', fontSize: 17, fontFamily: F, lineHeight: 19},
    data: items.map(function (it) { return {name: it[0], icon: 'rect', itemStyle: {color: it[1], borderWidth: 0}}; })};
}
function txt(text, x, y, font, align) {
  return {type: 'text', x: x, y: y, z: 0, silent: true,
    style: {text: text, font: font + ' ' + F, fill: '#000', align: align || 'left', verticalAlign: 'middle'}};
}

const N = {
  act: 'actual behavior',
  s38: 'sensory rpartial=0.68', c38: 'choice rpartial=0.10', p38: 'predicted behavior r=0.69',
  s20: 'sensory rpartial=0.60', c20: 'choice rpartial=-0.26', p20: 'predicted behavior r=0.54',
  sZ: 'sensory rpartial=0.67', cZ: 'choice rpartial=0.07', pZ: 'predicted behavior r=0.67',
  sJ: 'sensory rpartial=0.60', cJ: 'choice rpartial=-0.27', pJ: 'predicted behavior r=0.33'
};
const e20Sensory = e20Trials.map(function (t, i) { return [t, e20SensoryVals[i]]; });

const option = {
  animation: false,
  backgroundColor: '#ffffff',
  grid: [
    {left: 67, top: 67, width: 345, height: 295, outerBoundsMode: 'none'},
    {left: 460, top: 70, width: 328, height: 293, outerBoundsMode: 'none'},
    {left: 67, top: 440, width: 341, height: 300, outerBoundsMode: 'none'},
    {left: 456, top: 441, width: 332, height: 300, outerBoundsMode: 'none'},
    {left: 43, top: 849, width: 272, height: 272, outerBoundsMode: 'none'},
    {left: 357, top: 847, width: 271, height: 274, outerBoundsMode: 'none'},
    {left: 655, top: 889, width: 302, height: 238, outerBoundsMode: 'none'}
  ],
  xAxis: [
    xTime(0, 4500, ticksZ, 7, 'left', 'right'),
    xTime(1, 6000, ticksJ, 5, 'center', 'right'),
    xTime(2, 4500, ticksZ, 3, 'left', 'center'),
    xTime(3, 6000, ticksJ, 2, 'center', 'right'),
    xCorr(4, [-1, 1], 'right'),
    xCorr(5, [-1], 'center'),
    {gridIndex: 6, type: 'value', min: -1, max: 1, interval: 0.2,
      axisLine: axLine(), axisTick: tick(), splitLine: {show: false},
      axisLabel: {customValues: [-1, 1], formatter: plain, color: '#000', fontSize: 18, fontFamily: F, margin: 1},
      name: 'r-value', nameLocation: 'middle', nameGap: 4, nameMoveOverlap: false,
      nameTextStyle: {color: '#000', fontSize: 19, fontFamily: F}}
  ],
  yAxis: [
    yRel(0, 1.5, function (v) { return v === 1.5 ? '1.5' : '0'; }, 9, 7, 'middle'),
    yRel(1, 1, function (v) { return v === 1 ? '1.0' : '0'; }, 0, 6, 'bottom'),
    yRel(2, 1.5, function (v) { return v === 1.5 ? '1.5' : '0'; }, 14, 8, 'bottom'),
    yRel(3, 1, function (v) { return v === 1 ? '1.0' : '0'; }, 0, 7, 'bottom'),
    yCorr(4, 'Choice-Behavior Partial Correlation', 18),
    yCorr(5, 'Sensory-Choice Partial Correlation', 22),
    {gridIndex: 6, type: 'value', min: 0, max: 35, interval: 5,
      axisLine: axLine(), axisTick: tick(), splitLine: {show: false},
      axisLabel: {customValues: [0, 35], formatter: plain, color: '#000', fontSize: 18, fontFamily: F, margin: 9,
        verticalAlignMaxLabel: 'top', verticalAlignMinLabel: 'bottom'},
      name: 'Electrodes', nameLocation: 'middle', nameGap: 8, nameMoveOverlap: false,
      nameTextStyle: {color: '#000', fontSize: 19, fontFamily: F}}
  ],
  legend: [
    lineLegend([[N.act, BLACK], [N.s38, PINK], [N.c38, GREEN], [N.p38, BROWN]], 73, 80, [5, 18, 5, 10], 61),
    lineLegend([[N.act, BLACK], [N.s20, PINK], [N.c20, GREEN], [N.p20, BROWN]], 672, 34, [5, 6, 5, 10], 58),
    lineLegend([[N.act, BLACK], [N.sZ, PINK], [N.cZ, GREEN], [N.pZ, BROWN]], 74, 446, [5, 12, 5, 10], 61),
    lineLegend([[N.act, BLACK], [N.sJ, PINK], [N.cJ, GREEN], [N.pJ, BROWN]], 674, 400, [5, 5, 5, 9], 60),
    {orient: 'vertical', left: 55, top: 1053, padding: [3, 33, 9, 14], itemWidth: 10, itemHeight: 10, itemGap: 4,
      selectedMode: false, backgroundColor: '#fff', borderColor: '#000', borderWidth: 1, z: 10,
      textStyle: {color: '#000', fontSize: 15, fontFamily: F, lineHeight: 16, padding: [0, 0, 0, 24]},
      data: [
        {name: 'Monkey Z', icon: 'circle', itemStyle: {color: 'rgba(0,0,0,0)', borderColor: BLUE, borderWidth: 3}},
        {name: 'Monkey J', icon: 'circle', itemStyle: {color: 'rgba(0,0,0,0)', borderColor: RED, borderWidth: 3}}
      ]},
    {orient: 'vertical', left: 671, top: 840, padding: [3, 5, 3, 11], itemWidth: 25, itemHeight: 14, itemGap: 4,
      selectedMode: false, backgroundColor: '#fff', borderColor: '#000', borderWidth: 1, z: 10,
      textStyle: {color: '#000', fontSize: 17, fontFamily: F, lineHeight: 19, padding: [0, 0, 0, 2]},
      data: [
        {name: 'Predict:Behave All Electrodes', icon: 'rect', itemStyle: {color: LIGHT, borderColor: '#000', borderWidth: 1}},
        {name: 'Predict:Behave, Sig Electrodes', icon: 'rect', itemStyle: {color: DARK, borderColor: '#000', borderWidth: 1}}
      ]}
  ],
  graphic: [
    txt('a', 15, 17, 'bold 22px'),
    txt('Peak Reliability Example Electrodes', 430, 17, '18px', 'center'),
    txt('Electrode 38', 230, 57, 'bold 19px', 'center'),
    txt('Electrode 20', 617, 57, 'bold 19px', 'center'),
    txt('b', 17, 410, 'bold 22px'),
    txt('Mean Peak Reliability All Electrodes', 435, 407, '18px', 'center'),
    txt('Monkey Z', 211, 430, 'bold 19px', 'center'),
    txt('Monkey J', 626, 430, 'bold 19px', 'center'),
    txt('c', 11, 795, 'bold 22px'),
    txt('Peak Reliability Partial Correlations', 281, 793, '18px', 'center'),
    txt('d', 632, 798, 'bold 22px'),
    txt('Predicted:Actual Behavior', 805, 798, '18px', 'center'),
    txt('Correlations', 805, 821, '18px', 'center'),
    txt('1', 623, 1158, '18px', 'center')
  ],
  series: [
    bandS(0, e38Bands),
    lineS(N.act, e38Actual, BLACK, 0, 1.5),
    lineS(N.s38, e38Sensory, PINK, 0, 1.5),
    lineS(N.c38, e38Choice, GREEN, 0, 1.5),
    lineS(N.p38, e38Predicted, BROWN, 0, 1.5),

    bandS(1, e20Bands),
    lineS(N.act, e20Actual, BLACK, 1, 1.5),
    lineS(N.s20, e20Sensory, PINK, 1, 1.5),
    lineS(N.c20, e20Choice, GREEN, 1, 1.5),
    lineS(N.p20, e20Predicted, BROWN, 1, 1.5),

    bandS(2, monkeyZBands),
    lineS(N.act, zActual, BLACK, 2, 1),
    lineS(N.sZ, zSensory, PINK, 2, 1, true),
    lineS(N.cZ, zChoice, GREEN, 2, 1, true),
    lineS(N.pZ, zPredicted, BROWN, 2, 1, true),

    bandS(3, monkeyJBands),
    lineS(N.act, jActual, BLACK, 3, 1),
    lineS(N.sJ, jSensory, PINK, 3, 1, true),
    lineS(N.cJ, jChoice, GREEN, 3, 1, true),
    lineS(N.pJ, jPredicted, BROWN, 3, 1, true),

    scatterS('Monkey Z', zSBvsCB, BLUE, 4, true),
    scatterS('Monkey J', jSBvsCB, RED, 4, false),
    scatterS('Monkey Z', zSBvsSC, BLUE, 5, true),
    scatterS('Monkey J', jSBvsSC, RED, 5, false),

    histS('Predict:Behave All Electrodes', allCounts, LIGHT, 6),
    histS('Predict:Behave, Sig Electrodes', sigCounts, DARK, 6)
  ]
};

const chart = echarts.init(document.getElementById('c'), null, {renderer: 'canvas', width: 960, height: 1169});
chart.setOption(option);
</script></body></html>
